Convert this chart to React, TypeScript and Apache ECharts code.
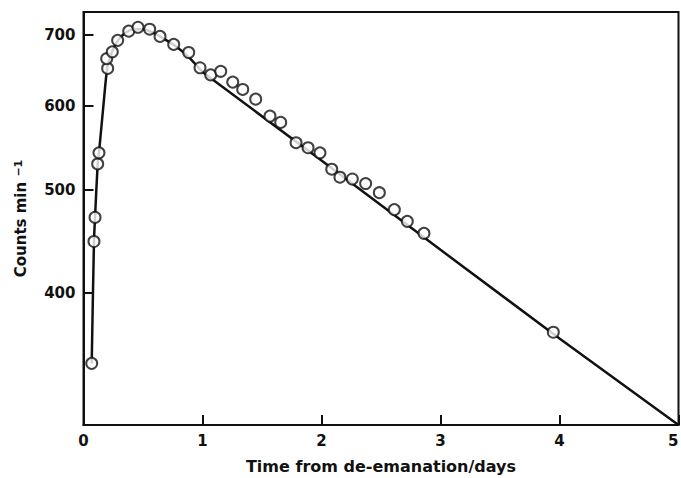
import React, { useEffect, useRef } from "react";
import * as echarts from "echarts";

// Measured points: time from de-emanation (days) and count rate (counts/min)
const days = [0.069, 0.088, 0.097, 0.119, 0.13, 0.203, 0.195, 0.242, 0.287, 0.38, 0.458, 0.556, 0.643, 0.758, 0.884, 0.979, 1.069, 1.153, 1.254, 1.338, 1.447, 1.567, 1.657, 1.786, 1.887, 1.987, 2.086, 2.155, 2.259, 2.371, 2.486, 2.612, 2.721, 2.861, 3.948];
const counts = [343, 447, 471, 529, 542, 651, 665, 675, 692, 706, 712, 709, 698, 686, 674, 652, 642, 647, 632, 622, 609, 587, 579, 554, 548, 542, 523, 514, 512, 507, 497, 479, 467, 455, 367];

// Fitted curve: growth part (curved) and decay part (straight on log scale)
const growthDays = [0.069, 0.088, 0.097, 0.119, 0.13, 0.17, 0.2, 0.24, 0.29, 0.35, 0.42, 0.5, 0.58, 0.67, 0.77, 0.88, 1.0];
const growthCounts = [343, 447, 471, 529, 542, 605, 652, 675, 692, 703, 709, 709, 704, 695, 684, 668, 646];
const decayDays = [1.0, 2.0, 3.0, 4.0, 5.0];
const decayCounts = [646, 533, 439, 362, 300];

const yTicks = [400, 500, 600, 700];
const yMin = 300;
const yMax = 736;
const xMin = 0;
const xMax = 5;

const FONT = "DejaVu Sans";
const INK = "#111";

export default function App() {
  const ref = useRef<HTMLDivElement>(null);
  useEffect(() => {
    if (!ref.current) return;
    const chart = echarts.init(ref.current, null, { renderer: "svg" });
    chart.setOption({
      animation: false,
      backgroundColor: "#fff",
      textStyle: { fontFamily: FONT, color: INK },
      grid: {
        left: 83.5,
        right: 2.5,
        top: 12,
        bottom: 53,
        containLabel: false,
        outerBoundsMode: "none",
        show: true,
        borderColor: INK,
        borderWidth: 2,
        backgroundColor: "transparent",
      },
      xAxis: {
        type: "value",
        min: xMin,
        max: xMax,
        interval: 1,
        axisLine: { show: true, lineStyle: { color: INK, width: 2 } },
        axisTick: { show: true, inside: true, length: 10, lineStyle: { color: INK, width: 2 } },
        axisLabel: {
          color: INK,
          fontSize: 15,
          fontWeight: "bold",
          margin: 8,
          fontFamily: FONT,
          hideOverlap: false,
          alignMaxLabel: "right",
        },
        splitLine: { show: false },
        name: "Time from de-emanation/days",
        nameLocation: "middle",
        nameGap: 33,
        nameTextStyle: { fontSize: 16, fontWeight: "bold", color: INK, fontFamily: FONT },
      },
      yAxis: {
        type: "log",
        min: yMin,
        max: yMax,
        axisLine: { show: true, lineStyle: { color: INK, width: 2 } },
        axisTick: { show: true, inside: true, length: 10, customValues: yTicks, lineStyle: { color: INK, width: 2 } },
        axisLabel: { customValues: yTicks, color: INK, fontSize: 15, fontWeight: "bold", margin: 8, fontFamily: FONT },
        minorTick: { show: false },
        splitLine: { show: false },
        name: "{a|Counts min }{sup|−1}",
        nameLocation: "middle",
        nameGap: 55,
        nameRotate: 90,
        nameTextStyle: {
          color: INK,
          fontFamily: FONT,
          rich: {
            a: { fontSize: 15, fontWeight: "bold", fontFamily: FONT, color: INK, verticalAlign: "bottom" },
            sup: { fontSize: 11, fontWeight: "bold", fontFamily: FONT, color: INK, verticalAlign: "bottom", padding: [0, 0, 5, 0] },
          },
        },
      },
      series: [
        {
          type: "line",
          data: growthDays.map((d, i) => [d, growthCounts[i]]),
          showSymbol: false,
          smooth: 0.25,
          lineStyle: { color: INK, width: 2.5 },
          z: 2,
        },
        {
          type: "line",
          data: decayDays.map((d, i) => [d, decayCounts[i]]),
          showSymbol: false,
          smooth: false,
          lineStyle: { color: INK, width: 2.5 },
          z: 2,
        },
        {
          type: "scatter",
          data: days.map((d, i) => [d, counts[i]]),
          symbol: "circle",
          symbolSize: 11,
          itemStyle: { color: "#fff", borderColor: INK, borderWidth: 2 },
          z: 3,
        },
      ],
    });
    return () => chart.dispose();
  }, []);
  return (
    <div
      ref={ref}
      style={{ position: "fixed", left: 0, top: 0, width: 681, height: 478, background: "#fff" }}
    />
  );
}
